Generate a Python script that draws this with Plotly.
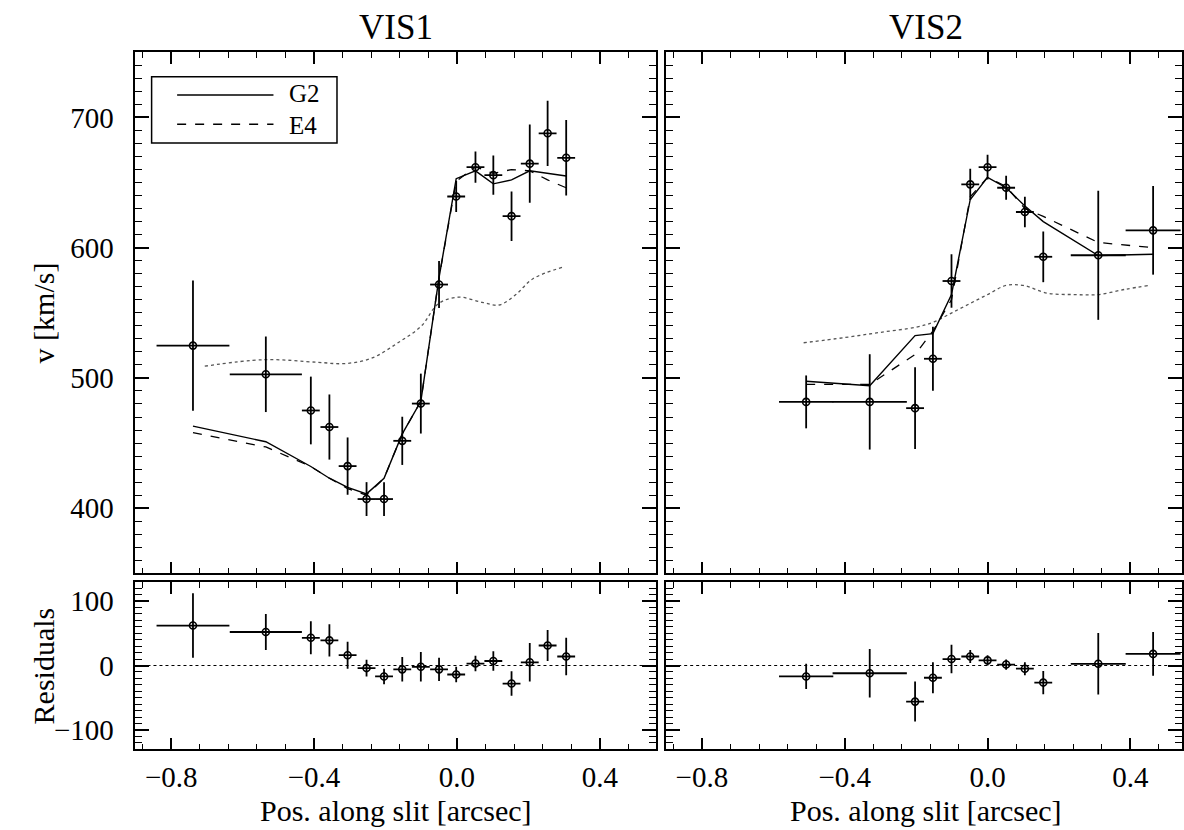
import plotly.graph_objects as go

# ---------------- data : VIS1 ----------------
vis1_x = [-0.739, -0.535, -0.409, -0.357, -0.306, -0.253, -0.204, -0.153, -0.101,
          -0.050, -0.002, 0.052, 0.102, 0.153, 0.204, 0.254, 0.306]
vis1_xerr = [0.102, 0.101, 0.025, 0.025, 0.025, 0.025, 0.025, 0.025, 0.025,
             0.025, 0.025, 0.025, 0.025, 0.025, 0.025, 0.025, 0.025]
vis1_v = [524.8, 502.8, 475.0, 462.3, 432.3, 407.0, 407.0, 451.7, 480.3,
          571.7, 639.3, 661.8, 655.7, 624.2, 664.5, 687.8, 669.0]
vis1_verr = [50, 29, 26, 25, 22, 13, 13, 18.5, 23, 18, 12, 12, 15, 19, 30, 25, 29]
vis1_g2 = [463, 451, 432, 423, 416, 411, 423, 457, 482, 577, 653, 659, 649, 652, 659, 657, 655]
vis1_e4 = [458, 447, 432, 423, 415, 410, 423, 457, 482, 577, 651, 662, 657, 660, 659, 652, 646]
vis1_dot_x = [-0.706, -0.54, -0.39, -0.315, -0.24, -0.165, -0.099, -0.052, 0.005,
              0.071, 0.118, 0.165, 0.212, 0.296]
vis1_dot_v = [509, 514, 512, 511, 515, 527, 540, 557, 562, 558, 556, 564, 576, 585]
vis1_res = [62, 52, 43, 39, 16, -4, -17, -6, -2, -6, -14, 3, 7, -28, 5, 31, 14]
vis1_reserr = [50, 28, 25.5, 25, 21, 13, 12, 19, 23, 18, 12, 12, 15, 19, 30, 24, 29]

# ---------------- data : VIS2 ----------------
vis2_x = [-0.508, -0.330, -0.203, -0.153, -0.101, -0.0485, 0.0, 0.052, 0.1045,
          0.156, 0.310, 0.4636]
vis2_xerr = [0.076, 0.104, 0.025, 0.025, 0.025, 0.025, 0.025, 0.025, 0.025,
             0.025, 0.077, 0.077]
vis2_v = [481.6, 481.6, 476.8, 514.7, 574.4, 648.6, 661.8, 646.0, 627.4,
          593.0, 594.2, 613.3]
vis2_verr = [20.3, 36.6, 31.3, 24.5, 20.5, 12, 9.5, 9.3, 11.7, 19.5, 49.6, 34]
vis2_g2 = [497.5, 494, 532.5, 534, 564, 637, 654, 646, 632, 620, 594, 595]
vis2_e4 = [495, 495, 518, 536, 560, 639, 654, 647, 630, 624, 604, 600]
vis2_dot_x = [-0.515, -0.4, -0.3, -0.2, -0.15, -0.1, -0.05, 0.0, 0.052, 0.1,
              0.168, 0.243, 0.31, 0.385, 0.45]
vis2_dot_v = [527, 531, 535, 539, 543, 550, 557, 564, 571, 571, 565, 564, 564, 568, 571]
vis2_res = [-17, -12, -56, -19, 10, 14, 8, 1.5, -5, -26.5, 2.6, 18]
vis2_reserr = [19.6, 37.5, 31, 24, 22, 10, 8, 8, 10, 18, 47.7, 34]

# axis ranges
x_range_left = [-0.9, 0.558]
x_range_right = [-0.9, 0.5445]
v_range = [350, 750]
res_range = [-130, 130]

FONT = "Liberation Serif, Times New Roman, serif"
W, H = 1184, 830


def px(x):
    return x / W


def py(y):
    return 1 - y / H


fig = go.Figure()

ebar = dict(type="data", color="black", thickness=1.8, width=0)


def add_panel(xa, ya, xs, xerr, vs, verr, g2, e4, dx, dv):
    fig.add_trace(go.Scatter(x=dx, y=dv, mode="lines",
                             line=dict(color="#555", width=1.3, dash="dot", shape="spline"),
                             xaxis=xa, yaxis=ya, showlegend=False, hoverinfo="skip"))
    fig.add_trace(go.Scatter(x=xs, y=g2, mode="lines", line=dict(color="black", width=1.4),
                             xaxis=xa, yaxis=ya, name="G2", showlegend=False))
    fig.add_trace(go.Scatter(x=xs, y=e4, mode="lines", line=dict(color="black", width=1.3, dash="dash"),
                             xaxis=xa, yaxis=ya, name="E4", showlegend=False))
    fig.add_trace(go.Scatter(x=xs, y=vs, mode="markers",
                             marker=dict(symbol="circle-open", size=7, color="black", line=dict(width=1.6)),
                             error_x=dict(array=xerr, **ebar), error_y=dict(array=verr, **ebar),
                             xaxis=xa, yaxis=ya, showlegend=False))


def add_res(xa, ya, xs, xerr, rs, rerr):
    fig.add_trace(go.Scatter(x=xs, y=rs, mode="markers",
                             marker=dict(symbol="circle-open", size=7, color="black", line=dict(width=1.6)),
                             error_x=dict(array=xerr, **ebar), error_y=dict(array=rerr, **ebar),
                             xaxis=xa, yaxis=ya, showlegend=False))


add_panel("x", "y", vis1_x, vis1_xerr, vis1_v, vis1_verr, vis1_g2, vis1_e4, vis1_dot_x, vis1_dot_v)
add_panel("x2", "y2", vis2_x, vis2_xerr, vis2_v, vis2_verr, vis2_g2, vis2_e4, vis2_dot_x, vis2_dot_v)
add_res("x3", "y3", vis1_x, vis1_xerr, vis1_res, vis1_reserr)
add_res("x4", "y4", vis2_x, vis2_xerr, vis2_res, vis2_reserr)

tickfont = dict(family=FONT, size=29, color="black")

dom_left = [px(135.7), px(657.3)]
dom_right = [px(667.3), 1.0]
dom_top = [py(573.3), py(52.3)]
dom_bot = [py(749.3), py(581.7)]


def xaxis(domain, anchor, rng, labels):
    return dict(domain=domain, anchor=anchor, range=rng, showline=True, linecolor="black", linewidth=1.6,
                mirror="ticks", ticks="inside", ticklen=12, tickwidth=1.5, tickcolor="black",
                dtick=0.4, tick0=0, tickformat=".1f", showticklabels=labels, showgrid=False,
                zeroline=False, tickfont=tickfont, ticklabelstandoff=1,
                minor=dict(dtick=0.08, tick0=0, ticklen=6, tickwidth=1.2, tickcolor="black",
                           ticks="inside", showgrid=False))


def yaxis(domain, anchor, rng, labels):
    return dict(domain=domain, anchor=anchor, range=rng, showline=True, linecolor="black", linewidth=1.6,
                mirror="ticks", ticks="inside", ticklen=14, tickwidth=1.5, tickcolor="black",
                dtick=100, tick0=0, showticklabels=labels, showgrid=False, zeroline=False,
                tickfont=tickfont, ticklabelstandoff=14,
                minor=dict(dtick=10, tick0=0, ticklen=7, tickwidth=1.2, tickcolor="black",
                           ticks="inside", showgrid=False))


fig.update_layout(
    width=W, height=H, margin=dict(l=0, r=0, t=0, b=0),
    paper_bgcolor="white", plot_bgcolor="white",
    font=dict(family=FONT, color="black"),
    xaxis=xaxis(dom_left, "y", x_range_left, False),
    yaxis=yaxis(dom_top, "x", v_range, True),
    xaxis2=xaxis(dom_right, "y2", x_range_right, False),
    yaxis2=yaxis(dom_top, "x2", v_range, False),
    xaxis3=xaxis(dom_left, "y3", x_range_left, True),
    yaxis3=yaxis(dom_bot, "x3", res_range, True),
    xaxis4=xaxis(dom_right, "y4", x_range_right, True),
    yaxis4=yaxis(dom_bot, "x4", res_range, False),
)

# residual zero lines
for xa, ya in (("x3", "y3"), ("x4", "y4")):
    fig.add_shape(type="line", xref=f"{xa} domain", yref=ya, x0=0, x1=1, y0=0, y1=0,
                  line=dict(color="black", width=1.2, dash="dot"))

# legend box (drawn in axis-domain coordinates of the first panel)
fig.add_shape(type="rect", xref="x domain", yref="y domain", x0=0.031, x1=0.387, y0=0.826, y1=0.953,
              line=dict(color="black", width=1.5), fillcolor="white", layer="above")
fig.add_shape(type="line", xref="x domain", yref="y domain", x0=0.080, x1=0.265, y0=0.918, y1=0.918,
              line=dict(color="black", width=1.4))
fig.add_shape(type="line", xref="x domain", yref="y domain", x0=0.080, x1=0.265, y0=0.862, y1=0.862,
              line=dict(color="black", width=1.4, dash="dash"))
legfont = dict(family=FONT, size=25, color="black")
fig.add_annotation(xref="x domain", yref="y domain", x=0.292, y=0.920, text="G2", showarrow=False,
                   xanchor="left", yanchor="middle", font=legfont, borderpad=0)
fig.add_annotation(xref="x domain", yref="y domain", x=0.292, y=0.860, text="E4", showarrow=False,
                   xanchor="left", yanchor="middle", font=legfont, borderpad=0)

# titles and axis labels
titlefont = dict(family=FONT, size=35, color="black")
labfont = dict(family=FONT, size=30, color="black")
fig.add_annotation(xref="paper", yref="paper", x=px(396.5), y=py(27), text="VIS1", showarrow=False,
                   xanchor="center", yanchor="middle", font=titlefont)
fig.add_annotation(xref="paper", yref="paper", x=px(928), y=py(27), text="VIS2", showarrow=False,
                   xanchor="center", yanchor="middle", font=titlefont)
fig.add_annotation(xref="paper", yref="paper", x=px(396.5), y=py(810), text="Pos. along slit [arcsec]",
                   showarrow=False, xanchor="center", yanchor="middle", font=labfont)
fig.add_annotation(xref="paper", yref="paper", x=px(928), y=py(810), text="Pos. along slit [arcsec]",
                   showarrow=False, xanchor="center", yanchor="middle", font=labfont)
fig.add_annotation(xref="paper", yref="paper", x=px(44), y=py(312.5), text="v [km/s]", textangle=-90,
                   showarrow=False, xanchor="center", yanchor="middle", font=labfont)
fig.add_annotation(xref="paper", yref="paper", x=px(44), y=py(665.5), text="Residuals", textangle=-90,
                   showarrow=False, xanchor="center", yanchor="middle", font=labfont)

fig.write_html("out.html")
